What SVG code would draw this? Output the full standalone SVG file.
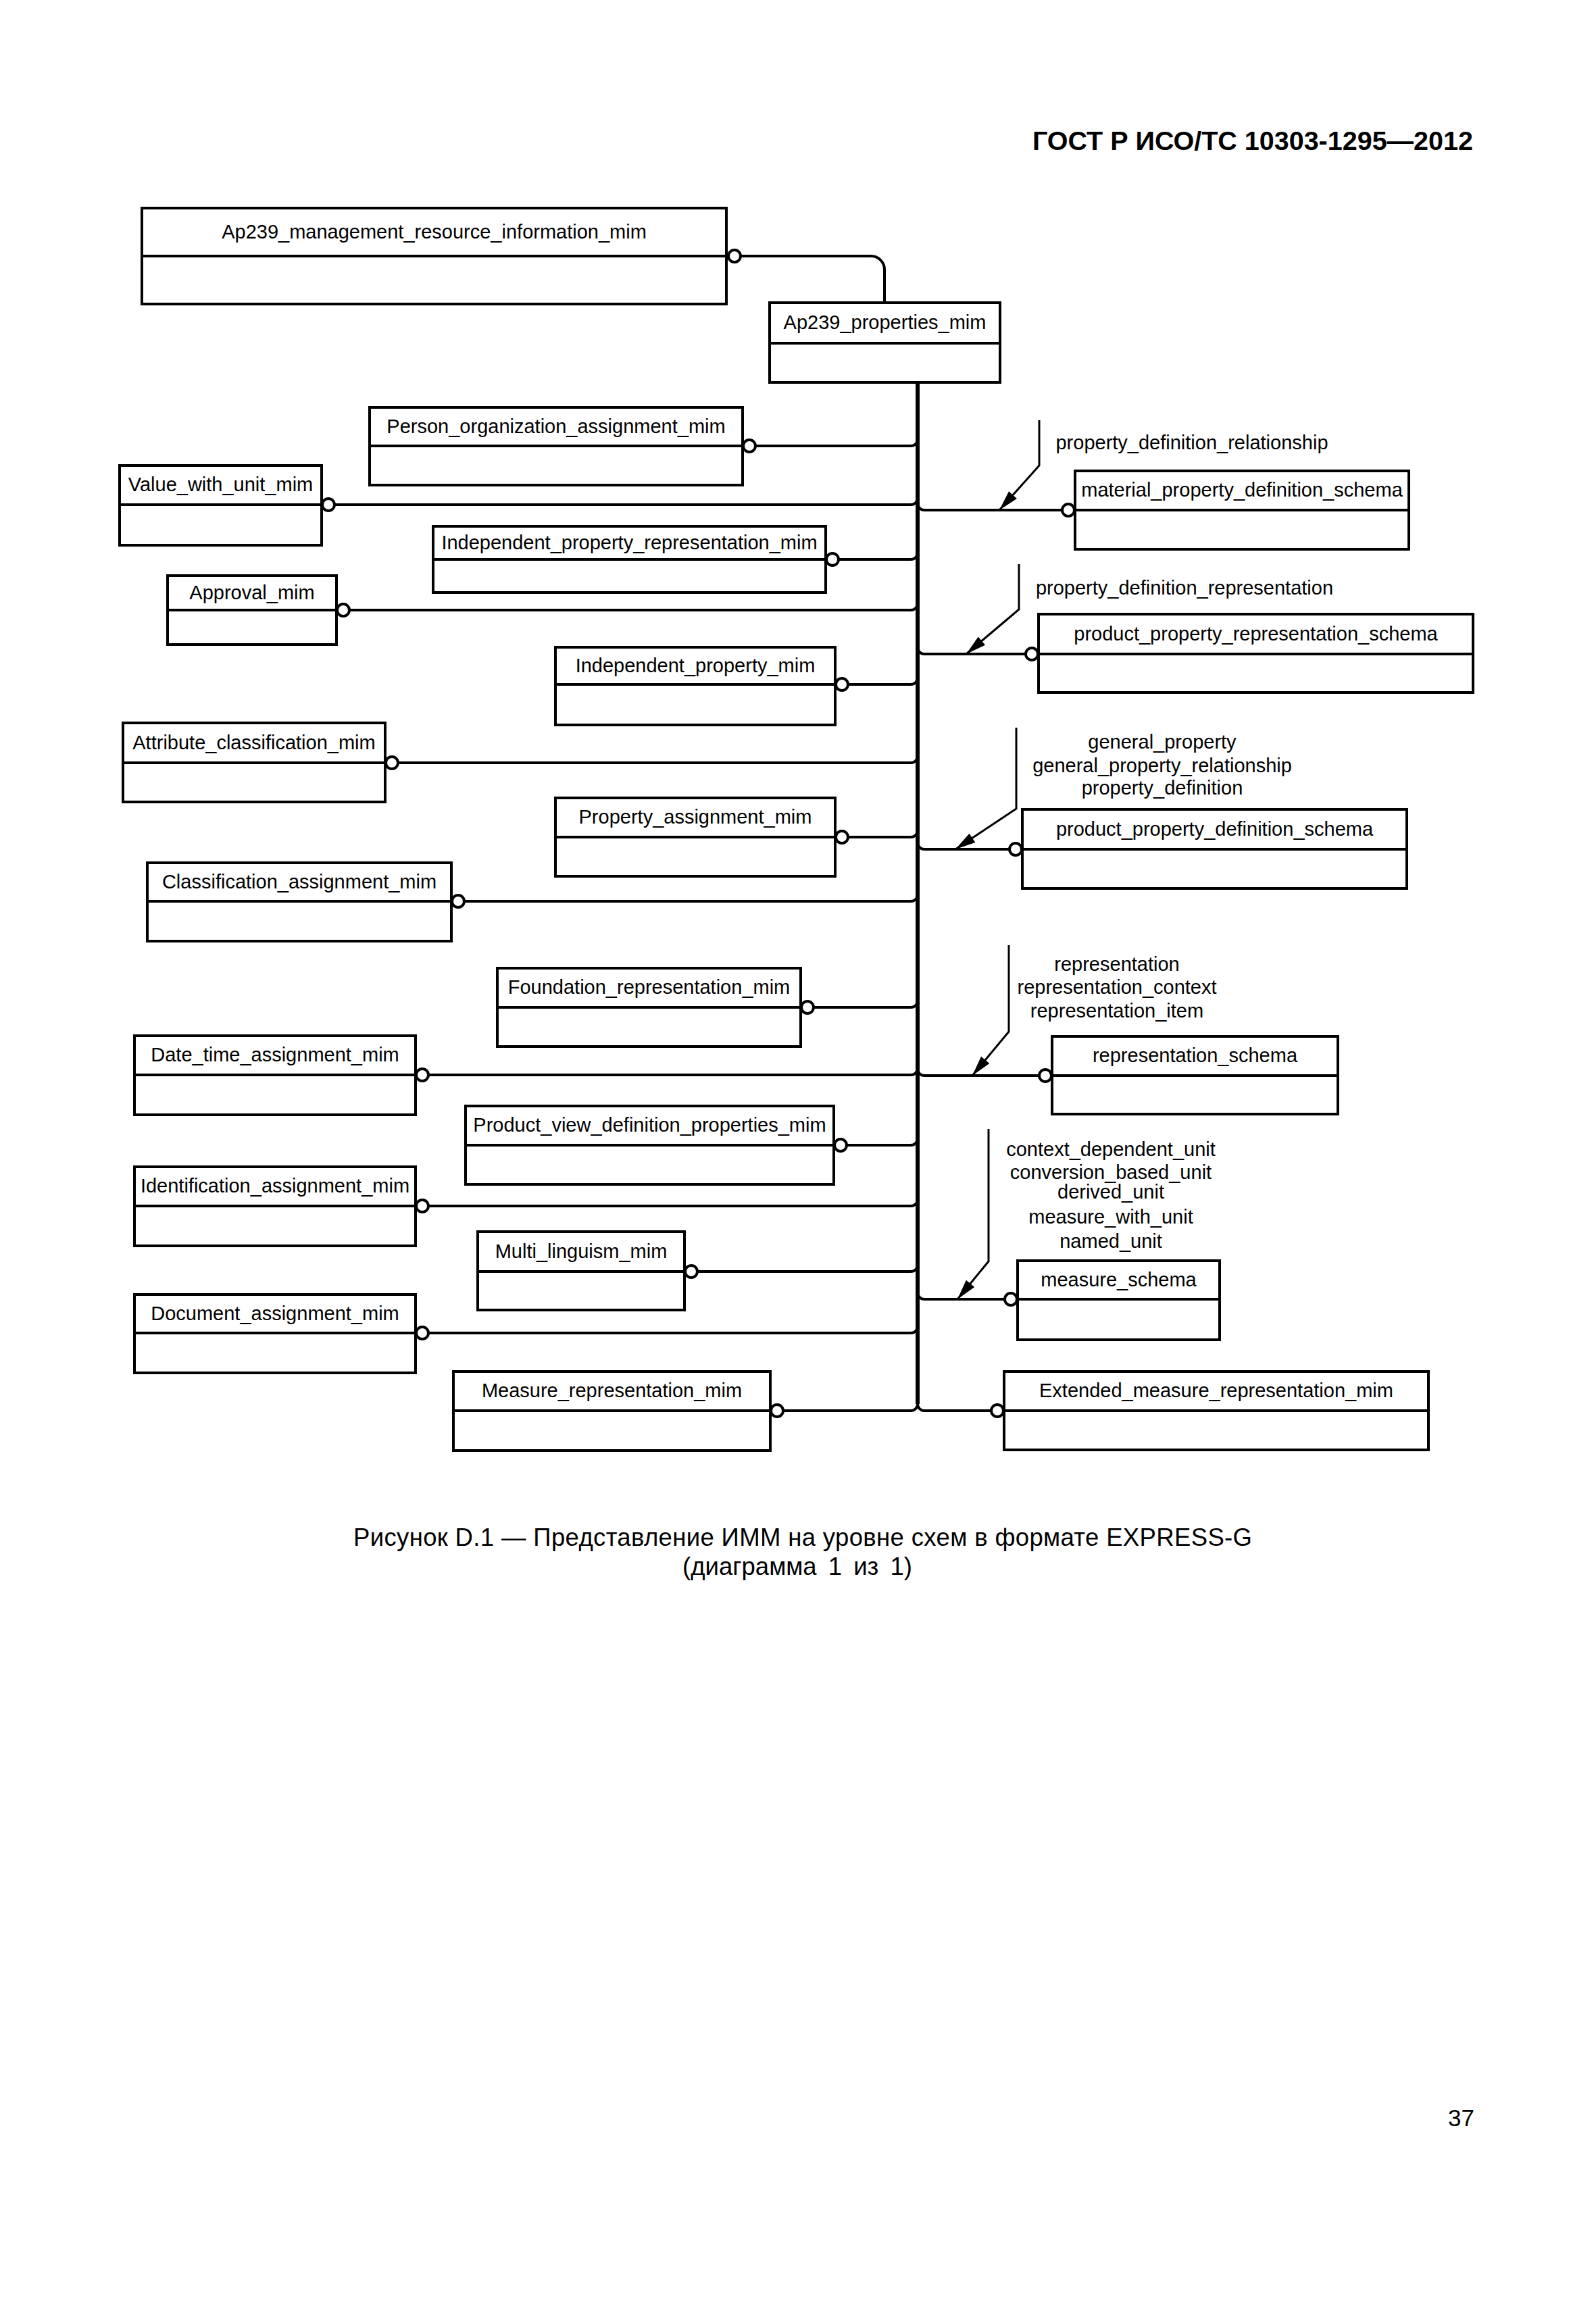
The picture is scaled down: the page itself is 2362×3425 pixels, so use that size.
<svg xmlns="http://www.w3.org/2000/svg" width="2362" height="3425" viewBox="0 0 2362 3425">
<style>
.bx{fill:#fff;stroke:#000;stroke-width:4}
.dv{stroke:#000;stroke-width:4}
.t{font-family:"Liberation Sans",Arial,sans-serif;font-size:29px;fill:#000;text-anchor:middle}
.c{fill:none;stroke:#000;stroke-width:4}
.bus{fill:none;stroke:#000;stroke-width:6}
.ar{fill:none;stroke:#000;stroke-width:3}
.o{fill:#fff;stroke:#000;stroke-width:4}
.hdr{font-family:"Liberation Sans",Arial,sans-serif;font-weight:bold;font-size:39.5px;fill:#000;text-anchor:end}
.cap{font-family:"Liberation Sans",Arial,sans-serif;font-size:36.5px;fill:#000;text-anchor:middle}
</style>
<defs>
<marker id="ah" viewBox="-31 -9 32 18" refX="0" refY="0" markerWidth="32" markerHeight="18" markerUnits="userSpaceOnUse" orient="auto">
<path d="M0,0 L-30,-8 L-30,8 Z" fill="#000"/>
</marker>
</defs>
<rect width="2362" height="3425" fill="#fff"/>
<text class="hdr" x="2180" y="222">ГОСТ Р ИСО/ТС 10303-1295—2012</text>

<g id="connectors">
<path class="c" d="M1096,379 H1289 A20,20 0 0 1 1309,399 V448"/>
<path class="bus" d="M1358,566 V2078"/>
<path class="c" d="M1118,660 H1348 A10,10 0 0 0 1358,650"/>
<path class="c" d="M495,747 H1348 A10,10 0 0 0 1358,737"/>
<path class="c" d="M1241,828 H1348 A10,10 0 0 0 1358,818"/>
<path class="c" d="M517,903 H1348 A10,10 0 0 0 1358,893"/>
<path class="c" d="M1255,1013 H1348 A10,10 0 0 0 1358,1003"/>
<path class="c" d="M589,1129 H1348 A10,10 0 0 0 1358,1119"/>
<path class="c" d="M1255,1239 H1348 A10,10 0 0 0 1358,1229"/>
<path class="c" d="M687,1334 H1348 A10,10 0 0 0 1358,1324"/>
<path class="c" d="M1204,1491 H1348 A10,10 0 0 0 1358,1481"/>
<path class="c" d="M634,1591 H1348 A10,10 0 0 0 1358,1581"/>
<path class="c" d="M1253,1695 H1348 A10,10 0 0 0 1358,1685"/>
<path class="c" d="M634,1785 H1348 A10,10 0 0 0 1358,1775"/>
<path class="c" d="M1032,1882 H1348 A10,10 0 0 0 1358,1872"/>
<path class="c" d="M634,1973 H1348 A10,10 0 0 0 1358,1963"/>
<path class="c" d="M1159,2088 H1348 A10,10 0 0 0 1358,2078"/>
<path class="c" d="M1358,745 A10,10 0 0 0 1368,755 H1572"/>
<path class="c" d="M1358,958 A10,10 0 0 0 1368,968 H1518"/>
<path class="c" d="M1358,1247 A10,10 0 0 0 1368,1257 H1494"/>
<path class="c" d="M1358,1582 A10,10 0 0 0 1368,1592 H1538"/>
<path class="c" d="M1358,1913 A10,10 0 0 0 1368,1923 H1487"/>
<path class="c" d="M1358,2078 A10,10 0 0 0 1368,2088 H1467"/>
<path class="ar" d="M1538,622 V689 L1479,755" marker-end="url(#ah)"/>
<path class="ar" d="M1508,835 V902 L1430,968" marker-end="url(#ah)"/>
<path class="ar" d="M1504,1077 V1197 L1414,1257" marker-end="url(#ah)"/>
<path class="ar" d="M1493,1399 V1527 L1439,1592" marker-end="url(#ah)"/>
<path class="ar" d="M1463,1671 V1867 L1417,1923" marker-end="url(#ah)"/>
<circle class="o" cx="1087" cy="379" r="9"/>
<circle class="o" cx="1109" cy="660" r="9"/>
<circle class="o" cx="486" cy="747" r="9"/>
<circle class="o" cx="1232" cy="828" r="9"/>
<circle class="o" cx="508" cy="903" r="9"/>
<circle class="o" cx="1246" cy="1013" r="9"/>
<circle class="o" cx="580" cy="1129" r="9"/>
<circle class="o" cx="1246" cy="1239" r="9"/>
<circle class="o" cx="678" cy="1334" r="9"/>
<circle class="o" cx="1195" cy="1491" r="9"/>
<circle class="o" cx="625" cy="1591" r="9"/>
<circle class="o" cx="1244" cy="1695" r="9"/>
<circle class="o" cx="625" cy="1785" r="9"/>
<circle class="o" cx="1023" cy="1882" r="9"/>
<circle class="o" cx="625" cy="1973" r="9"/>
<circle class="o" cx="1150" cy="2088" r="9"/>
<circle class="o" cx="1581" cy="755" r="9"/>
<circle class="o" cx="1527" cy="968" r="9"/>
<circle class="o" cx="1503" cy="1257" r="9"/>
<circle class="o" cx="1547" cy="1592" r="9"/>
<circle class="o" cx="1496" cy="1923" r="9"/>
<circle class="o" cx="1476" cy="2088" r="9"/>
<text class="t" x="1764" y="665">property_definition_relationship</text>
<text class="t" x="1753" y="880">property_definition_representation</text>
<text class="t" x="1720" y="1108">general_property</text>
<text class="t" x="1720" y="1143">general_property_relationship</text>
<text class="t" x="1720" y="1176">property_definition</text>
<text class="t" x="1653" y="1437">representation</text>
<text class="t" x="1653" y="1471">representation_context</text>
<text class="t" x="1653" y="1506">representation_item</text>
<text class="t" x="1644" y="1711">context_dependent_unit</text>
<text class="t" x="1644" y="1745">conversion_based_unit</text>
<text class="t" x="1644" y="1774">derived_unit</text>
<text class="t" x="1644" y="1811">measure_with_unit</text>
<text class="t" x="1644" y="1847">named_unit</text>
</g>

<g id="n_ap239_management"><rect class="bx" x="210" y="308" width="865" height="142"/><line class="dv" x1="210" y1="379" x2="1075" y2="379"/><text class="t" x="642.5" y="352.5">Ap239_management_resource_information_mim</text></g>
<g id="n_ap239_properties"><rect class="bx" x="1139" y="448" width="341" height="118"/><line class="dv" x1="1139" y1="508" x2="1480" y2="508"/><text class="t" x="1309.5" y="487">Ap239_properties_mim</text></g>
<g id="n_person_org"><rect class="bx" x="547" y="603" width="552" height="115"/><line class="dv" x1="547" y1="660" x2="1099" y2="660"/><text class="t" x="823" y="640.5">Person_organization_assignment_mim</text></g>
<g id="n_value_with_unit"><rect class="bx" x="177" y="689" width="299" height="118"/><line class="dv" x1="177" y1="747" x2="476" y2="747"/><text class="t" x="326.5" y="727">Value_with_unit_mim</text></g>
<g id="n_indep_prop_rep"><rect class="bx" x="641" y="779" width="581" height="98"/><line class="dv" x1="641" y1="828" x2="1222" y2="828"/><text class="t" x="931.5" y="812.5">Independent_property_representation_mim</text></g>
<g id="n_approval"><rect class="bx" x="248" y="852" width="250" height="102"/><line class="dv" x1="248" y1="903" x2="498" y2="903"/><text class="t" x="373" y="886.5">Approval_mim</text></g>
<g id="n_indep_prop"><rect class="bx" x="822" y="958" width="414" height="115"/><line class="dv" x1="822" y1="1013" x2="1236" y2="1013"/><text class="t" x="1029" y="994.5">Independent_property_mim</text></g>
<g id="n_attr_class"><rect class="bx" x="182" y="1070" width="388" height="117"/><line class="dv" x1="182" y1="1129" x2="570" y2="1129"/><text class="t" x="376" y="1108.5">Attribute_classification_mim</text></g>
<g id="n_prop_assign"><rect class="bx" x="822" y="1181" width="414" height="116"/><line class="dv" x1="822" y1="1239" x2="1236" y2="1239"/><text class="t" x="1029" y="1219">Property_assignment_mim</text></g>
<g id="n_class_assign"><rect class="bx" x="218" y="1277" width="450" height="116"/><line class="dv" x1="218" y1="1334" x2="668" y2="1334"/><text class="t" x="443" y="1314.5">Classification_assignment_mim</text></g>
<g id="n_foundation_rep"><rect class="bx" x="736" y="1433" width="449" height="116"/><line class="dv" x1="736" y1="1491" x2="1185" y2="1491"/><text class="t" x="960.5" y="1471">Foundation_representation_mim</text></g>
<g id="n_date_time"><rect class="bx" x="199" y="1533" width="416" height="117"/><line class="dv" x1="199" y1="1591" x2="615" y2="1591"/><text class="t" x="407" y="1571">Date_time_assignment_mim</text></g>
<g id="n_product_view"><rect class="bx" x="689" y="1637" width="545" height="116"/><line class="dv" x1="689" y1="1695" x2="1234" y2="1695"/><text class="t" x="961.5" y="1675">Product_view_definition_properties_mim</text></g>
<g id="n_identification"><rect class="bx" x="199" y="1727" width="416" height="117"/><line class="dv" x1="199" y1="1785" x2="615" y2="1785"/><text class="t" x="407" y="1765">Identification_assignment_mim</text></g>
<g id="n_multi_linguism"><rect class="bx" x="707" y="1823" width="306" height="116"/><line class="dv" x1="707" y1="1882" x2="1013" y2="1882"/><text class="t" x="860" y="1861.5">Multi_linguism_mim</text></g>
<g id="n_document"><rect class="bx" x="199" y="1916" width="416" height="116"/><line class="dv" x1="199" y1="1973" x2="615" y2="1973"/><text class="t" x="407" y="1953.5">Document_assignment_mim</text></g>
<g id="n_measure_rep"><rect class="bx" x="671" y="2030" width="469" height="117"/><line class="dv" x1="671" y1="2088" x2="1140" y2="2088"/><text class="t" x="905.5" y="2068">Measure_representation_mim</text></g>
<g id="n_material_prop"><rect class="bx" x="1591" y="697" width="494" height="116"/><line class="dv" x1="1591" y1="755" x2="2085" y2="755"/><text class="t" x="1838" y="735">material_property_definition_schema</text></g>
<g id="n_product_prop_rep"><rect class="bx" x="1537" y="909" width="643" height="116"/><line class="dv" x1="1537" y1="968" x2="2180" y2="968"/><text class="t" x="1858.5" y="947.5">product_property_representation_schema</text></g>
<g id="n_product_prop_def"><rect class="bx" x="1513" y="1198" width="569" height="117"/><line class="dv" x1="1513" y1="1257" x2="2082" y2="1257"/><text class="t" x="1797.5" y="1236.5">product_property_definition_schema</text></g>
<g id="n_representation_schema"><rect class="bx" x="1557" y="1534" width="423" height="115"/><line class="dv" x1="1557" y1="1592" x2="1980" y2="1592"/><text class="t" x="1768.5" y="1572">representation_schema</text></g>
<g id="n_measure_schema"><rect class="bx" x="1506" y="1866" width="299" height="117"/><line class="dv" x1="1506" y1="1923" x2="1805" y2="1923"/><text class="t" x="1655.5" y="1903.5">measure_schema</text></g>
<g id="n_extended_measure"><rect class="bx" x="1486" y="2030" width="628" height="116"/><line class="dv" x1="1486" y1="2088" x2="2114" y2="2088"/><text class="t" x="1800" y="2068">Extended_measure_representation_mim</text></g>

<text class="cap" x="1188" y="2288" textLength="1330" lengthAdjust="spacing">Рисунок D.1 — Представление ИММ на уровне схем в формате EXPRESS-G</text>
<text class="cap" x="1180" y="2331" word-spacing="7">(диаграмма 1 из 1)</text>
<text class="cap" x="2182" y="3147" style="text-anchor:end;font-size:35px">37</text>
</svg>
